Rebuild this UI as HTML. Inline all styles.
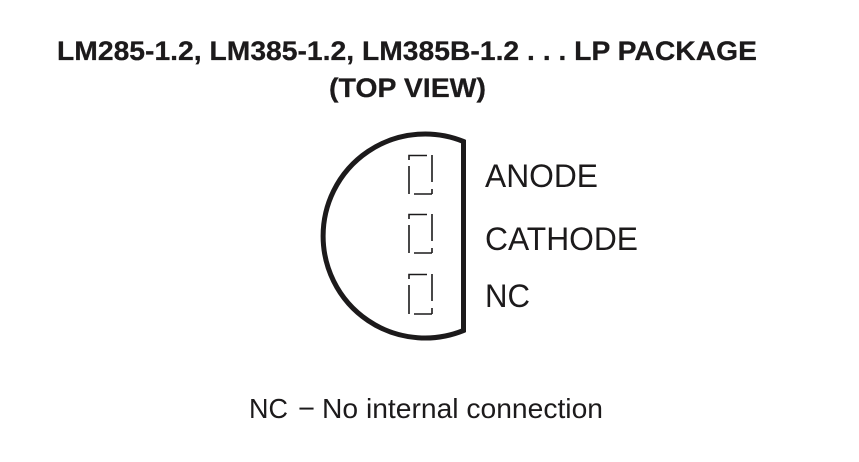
<!DOCTYPE html>
<html>
<head>
<meta charset="utf-8">
<style>
html,body{margin:0;padding:0;background:#fff;width:859px;height:462px;overflow:hidden}
svg{display:block}
text{font-family:"Liberation Sans",Arial,sans-serif;fill:#1c1a1b}
.b{font-weight:bold;font-size:27px;stroke:#1c1a1b;stroke-width:.25px}
.l{font-size:32px}
.n{font-size:28px}
</style>
</head>
<body>
<svg width="859" height="462" viewBox="0 0 859 462" xmlns="http://www.w3.org/2000/svg">
<text class="b" x="57" y="60" textLength="700" lengthAdjust="spacingAndGlyphs">LM285-1.2, LM385-1.2, LM385B-1.2 . . . LP PACKAGE</text>
<text class="b" x="329" y="97" textLength="157" lengthAdjust="spacingAndGlyphs">(TOP VIEW)</text>
<path d="M463.500 141.500A102 102 0 1 0 463.500 330.500Z" fill="none" stroke="#1c1a1b" stroke-width="5" stroke-linejoin="miter"/>
<g fill="none" stroke="#1c1a1b" stroke-width="1.600">
<path d="M409 160V155.500H427M432 155V182M432 189V194M414 194H432M409 166V194"/>
<path d="M409 219V214.500H427M432 214V241M432 248V253M414 253H432M409 225V253"/>
<path d="M409 279V274.500H427M432 274V301M432 308V314M414 314H432M409 285V314"/>
</g>
<text class="l" x="485" y="187" textLength="113" lengthAdjust="spacingAndGlyphs">ANODE</text>
<text class="l" x="485" y="250" textLength="153" lengthAdjust="spacingAndGlyphs">CATHODE</text>
<text class="l" x="485" y="307" textLength="45" lengthAdjust="spacingAndGlyphs">NC</text>
<text class="n" x="249" y="418" textLength="39" lengthAdjust="spacingAndGlyphs">NC</text>
<text class="n" x="298" y="418" textLength="17" lengthAdjust="spacingAndGlyphs">−</text>
<text class="n" x="322" y="418" textLength="281" lengthAdjust="spacingAndGlyphs">No internal connection</text>
</svg>
</body>
</html>
